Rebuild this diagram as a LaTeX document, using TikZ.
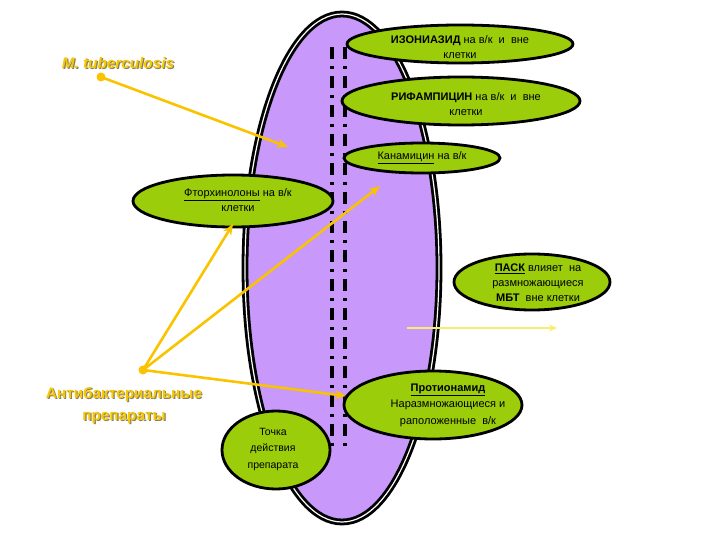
\documentclass[tikz,border=0pt]{standalone}
\usepackage{fontspec}
\setmainfont{Liberation Sans}
\usetikzlibrary{shapes.geometric,arrows.meta}
\definecolor{cellpurple}{RGB}{200,152,250}
\definecolor{drggreen}{RGB}{155,205,10}
\definecolor{arrgold}{RGB}{250,195,0}
\definecolor{lightyel}{RGB}{245,238,110}
\definecolor{txtyel}{RGB}{245,200,10}
\definecolor{shadowc}{RGB}{140,130,90}
\tikzset{
  drug/.style={ellipse,draw=black,line width=2.8pt,fill=drggreen,inner sep=0pt},
  dtext/.style={align=center,font=\fontsize{11}{15}\selectfont,inner sep=0pt},
  garrow/.style={arrgold,line width=2.6pt,-{Stealth[length=11pt,width=9pt]}},
  gdot/.style={circle,fill=arrgold,inner sep=0pt,minimum size=9pt},
  ddline/.style={line width=4pt,dash pattern=on 12pt off 7pt on 3pt off 7pt},
  bigtext/.style={align=center,inner sep=0pt}
}
\begin{document}
\begin{tikzpicture}[x=1pt,y=-1pt]
\useasboundingbox (0,0) rectangle (720,540);
% cell
\node[ellipse,draw=black,line width=2.8pt,double=white,double distance=1.2pt,fill=cellpurple,
  minimum width=194pt,minimum height=508pt,inner sep=0pt] (cell) at (342,268) {};
% dash-dot lines
\coordinate (l1t) at (332,47); \coordinate (l1b) at (332,447);
\coordinate (l2t) at (345,47); \coordinate (l2b) at (345,447);
\draw[ddline] (l1t) -- (l1b);
\draw[ddline] (l2t) -- (l2b);
% drug ellipses
\node[drug,minimum width=226pt,minimum height=38pt] (iso) at (460,44) {};
\node[dtext] (isot) at (460,47) {\textbf{ИЗОНИАЗИД} на в/к\ \ и\ \ вне\\клетки};
\node[drug,minimum width=238pt,minimum height=48pt] (rif) at (461,101) {};
\node[dtext] (rift) at (466,104) {\textbf{РИФАМПИЦИН} на в/к\ \ и\ \ вне\\клетки};
\node[drug,minimum width=156pt,minimum height=30pt] (kan) at (422,158) {};
\node[dtext] (kant) at (422,158) {\underline{Канамицин} на в/к};
\node[drug,minimum width=200pt,minimum height=52pt] (ftor) at (233,201) {};
\node[dtext] (ftort) at (238,200) {\underline{Фторхинолоны} на в/к\\клетки};
\node[drug,minimum width=156pt,minimum height=56pt] (pask) at (532,282) {};
\node[dtext] (paskt) at (538,283) {\underline{\textbf{ПАСК}} влияет\ \ на\\размножающиеся\\\textbf{МБТ}\ \ вне клетки};
\node[drug,minimum width=178pt,minimum height=68pt] (prot) at (433,405) {};
\node[dtext,font=\fontsize{11}{16.5}\selectfont] (prott) at (448,405) {\underline{\textbf{Протионамид}}\\Наразмножающиеся и\\раположенные\ \ в/к};
\node[drug,minimum width=108pt,minimum height=78pt] (tochka) at (276,450) {};
\node[dtext,font=\fontsize{10.5}{16.5}\selectfont] (tochkat) at (273,449) {Точка\\действия\\препарата};
% labels
\node[bigtext,text=shadowc,font=\fontsize{15.3}{18}\selectfont\bfseries\itshape] (mtbs) at (119.2,64.2) {M. tuberculosis};
\node[bigtext,text=txtyel,font=\fontsize{15.3}{18}\selectfont\bfseries\itshape] (mtb) at (118,63) {M. tuberculosis};
\node[bigtext,text=shadowc,font=\fontsize{15.3}{22}\selectfont\bfseries] (abs) at (125.2,406.2) {Антибактериальные\\препараты};
\node[bigtext,text=txtyel,font=\fontsize{15.3}{22}\selectfont\bfseries] (ab) at (124,405) {Антибактериальные\\препараты};
% arrows
\node[gdot] (mdot) at (101,77) {};
\coordinate (mend) at (288,147);
\draw[garrow] (mdot.center) -- (mend);
\node[gdot] (adot) at (143,370) {};
\coordinate (aend1) at (233,224);
\coordinate (aend2) at (380,186);
\coordinate (aend3) at (346,396);
\draw[garrow] (adot.center) -- (aend1);
\draw[garrow] (adot.center) -- (aend2);
\draw[garrow] (adot.center) -- (aend3);
\coordinate (hs) at (407,328);
\coordinate (he) at (557,328);
\draw[lightyel,line width=2.2pt,-{Stealth[length=8pt,width=7pt]}] (hs) -- (he);
\end{tikzpicture}
\end{document}
